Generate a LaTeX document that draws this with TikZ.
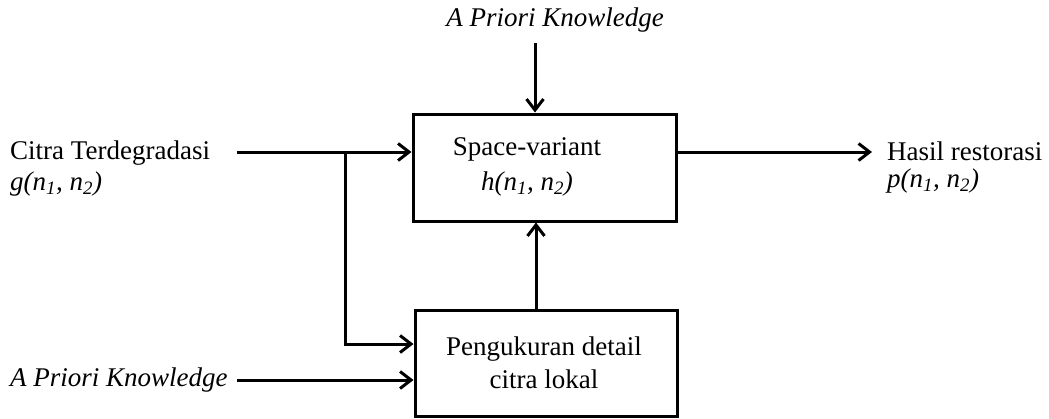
\documentclass[tikz,border=0pt]{standalone}
\usepackage{fontspec}
\setmainfont{Liberation Serif}
\usetikzlibrary{arrows.meta}
\newcommand{\nsub}[1]{n\textsubscript{\itshape #1}}
\begin{document}
\begin{tikzpicture}[x=1pt,y=-1pt,
  lbl/.style={inner sep=0pt,font=\fontsize{27}{33}\selectfont},
  boxnode/.style={draw,line width=3pt,inner sep=0pt},
  conn/.style={line width=3pt,-{Straight Barb[length=11pt,width=17pt,line width=3pt]}},
  plain/.style={line width=3pt}]
\useasboundingbox (0,0) rectangle (1049,418);
\node[boxnode,minimum width=263pt,minimum height=107pt] (sv) at (544.5,167.5) {};
\node[boxnode,minimum width=262pt,minimum height=106pt] (pd) at (546,363) {};
\node[lbl,align=center] (svt) at (527,167) {Space-variant\\[2pt]\textit{h(\nsub{1}, \nsub{2})}};
\node[lbl,align=center] (pdt) at (544,363) {Pengukuran detail\\citra lokal};
\node[lbl,anchor=west] (cit) at (10,153) {Citra Terdegradasi};
\node[lbl,anchor=west] (g) at (10,184) {\textit{g(\nsub{1}, \nsub{2})}};
\node[lbl,anchor=west] (apk2) at (10,380) {\textit{A Priori Knowledge}};
\node[lbl] (apk1) at (555,20) {\textit{A Priori Knowledge}};
\node[lbl,anchor=west] (hr) at (887,151) {Hasil restorasi};
\node[lbl,anchor=west] (p) at (887,181) {\textit{p(\nsub{1}, \nsub{2})}};
\coordinate (inS) at (237,152);
\coordinate (br) at (345,152);
\coordinate (apkS) at (237,380);
\coordinate (topS) at (535,43);
\coordinate (outE) at (872,152);
\draw[conn] (inS) -- (inS -| sv.west);
\draw[conn] (br) -- (br |- 0,344) -- (pd.west |- 0,344);
\draw[conn] (apkS) -- (apkS -| pd.west);
\draw[conn] (topS) -- (topS |- sv.north);
\draw[conn] (pd.north -| 536,0) -- (sv.south -| 536,0);
\draw[conn] (outE -| sv.east) -- (outE);
\end{tikzpicture}
\end{document}
